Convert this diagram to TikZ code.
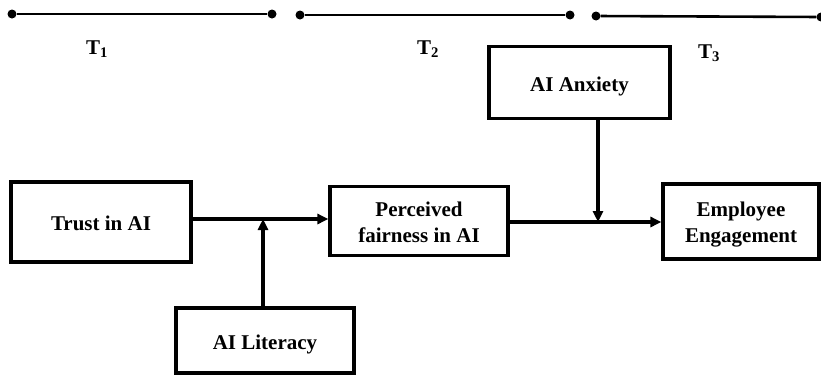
\documentclass[tikz,border=0pt]{standalone}
\usepackage{fontspec}
\setmainfont{Liberation Serif}
\usetikzlibrary{arrows.meta}
\newcommand{\twolines}[2]{\begin{tabular}{@{}c@{}}#1\\#2\end{tabular}}
\begin{document}
\begin{tikzpicture}[x=1pt,y=-1pt,
  boxbase/.style={draw,line width=3.2pt,inner sep=0pt,font=\fontsize{21}{26}\selectfont\bfseries},
  box/.style={boxbase,text height=22pt,text depth=5pt},
  boxtwo/.style={boxbase,text height=34pt,text depth=18pt},
  arr/.style={line width=3.2pt,-{Triangle[length=11pt,width=10pt]}},
  tdot/.style={circle,fill,inner sep=0pt,minimum size=9pt},
  tline/.style={line width=2.6pt},
  tlab/.style={font=\fontsize{21}{23}\selectfont\bfseries}]
\useasboundingbox (0,0) rectangle (821,378);
% timeline
\node[tdot] (a1) at (12,14) {};
\node[tdot] (a2) at (272,14) {};
\node[tdot] (b1) at (300,15) {};
\node[tdot] (b2) at (570,15) {};
\node[tdot] (c1) at (596,16) {};
\node[tdot] (c2) at (821,17) {};
\draw[tline] (a1) -- (a2);
\draw[tline] (b1) -- (b2);
\draw[tline] (c1) -- (c2);
\node[tlab] (t1) at (97,49) {T\textsubscript{1}};
\node[tlab] (t2) at (428,49) {T\textsubscript{2}};
\node[tlab] (t3) at (709,53) {T\textsubscript{3}};
% boxes
\node[box,minimum width=180pt,minimum height=80pt] (trust) at (101,222) {Trust in AI};
\node[box,minimum width=178pt,minimum height=65pt] (lit) at (265,340.5) {AI Literacy};
\node[boxtwo,minimum width=178pt,minimum height=69pt] (perc) at (419,221) {\twolines{Perceived}{fairness in AI}};
\node[box,minimum width=181pt,minimum height=72pt] (anx) at (579.5,82.5) {AI Anxiety};
\node[boxtwo,minimum width=156pt,minimum height=75pt] (emp) at (741,221.5) {\twolines{Employee}{Engagement}};
% connectors
\coordinate (j1) at (263,219);
\coordinate (j2) at (598,222);
\draw[arr] (trust.east |- j1) -- (perc.west |- j1);
\draw[arr] (lit.north -| j1) -- (j1);
\draw[arr] (perc.east |- j2) -- (emp.west |- j2);
\draw[arr] (anx.south -| j2) -- (j2);
\end{tikzpicture}
\end{document}
